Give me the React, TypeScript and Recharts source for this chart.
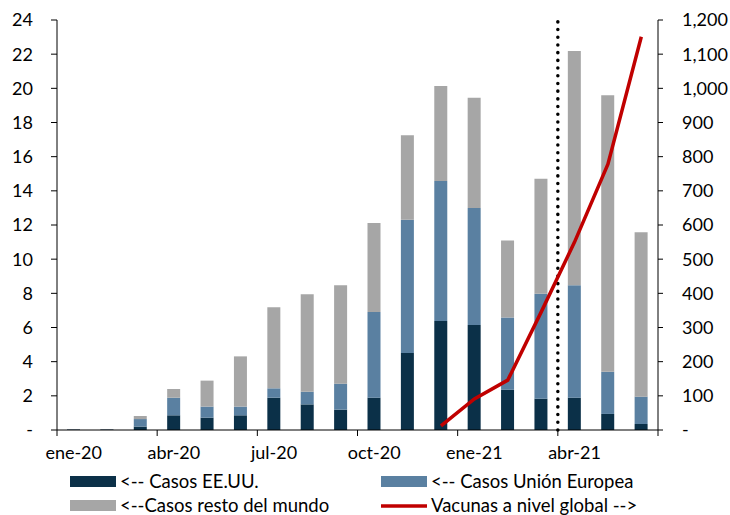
import React from 'react';
import { ComposedChart, Bar, Line, XAxis, YAxis, ReferenceLine } from 'recharts';

// Monthly new COVID-19 cases (millions) by region, and global vaccine doses (millions)
const months = [
  'ene-20', 'feb-20', 'mar-20', 'abr-20', 'may-20', 'jun-20',
  'jul-20', 'ago-20', 'sep-20', 'oct-20', 'nov-20', 'dic-20',
  'ene-21', 'feb-21', 'mar-21', 'abr-21', 'may-21', 'jun-21',
];
const casosEEUU = [0.03, 0.03, 0.2, 0.86, 0.72, 0.86, 1.89, 1.5, 1.19, 1.89, 4.51, 6.38, 6.15, 2.36, 1.83, 1.89, 0.94, 0.35];
const casosUE = [0.01, 0.01, 0.44, 1.03, 0.65, 0.51, 0.55, 0.74, 1.52, 5.02, 7.8, 8.2, 6.85, 4.22, 6.15, 6.58, 2.47, 1.6];
const casosResto = [0.01, 0.01, 0.18, 0.51, 1.52, 2.94, 4.74, 5.7, 5.76, 5.21, 4.94, 5.56, 6.45, 4.52, 6.73, 13.72, 16.18, 9.62];
const vacunas: (number | null)[] = [
  null, null, null, null, null, null, null, null, null, null, null,
  12, 91, 146, 345, 550, 778, 1151,
];
const leftTicks = [0, 2, 4, 6, 8, 10, 12, 14, 16, 18, 20, 22, 24];
const rightTicks = [0, 100, 200, 300, 400, 500, 600, 700, 800, 900, 1000, 1100, 1200];
const quarterLabels = ['ene-20', 'abr-20', 'jul-20', 'oct-20', 'ene-21', 'abr-21'];
const markerMonth = 'abr-21';

const data = months.map((m, i) => ({
  mes: m,
  eeuu: casosEEUU[i],
  ue: casosUE[i],
  resto: casosResto[i],
  vacunas: vacunas[i],
}));

const FONT = 'Lato, "Liberation Sans", sans-serif';
const AXIS_FONT_SIZE = 18;
const LEGEND_FONT_SIZE = 18.5;
const TEXT = '#000';
const C_EEUU = '#0B3048';
const C_UE = '#5A80A1';
const C_RESTO = '#A6A6A6';
const C_VAC = '#C00000';

const fmtLeft = (v: number) => (v === 0 ? '-' : String(v));
const fmtRight = (v: number) => (v === 0 ? '-' : v.toLocaleString('en-US'));

// Quarter labels sit on the first month of each quarter; tick marks sit on the
// category boundaries to the left of them (plus the closing boundary).
const QuarterTick = (props: any) => {
  const { x, y, payload } = props;
  const value = payload?.value;
  if (!quarterLabels.includes(value)) return null;
  const half = payload?.offset ?? 0;
  const left = x - half;
  const isLast = value === quarterLabels[quarterLabels.length - 1];
  return (
    <g>
      <line x1={left} x2={left} y1={y} y2={y + 6} stroke="#000" strokeWidth={1} />
      {isLast && (
        <line x1={left + half * 6} x2={left + half * 6} y1={y} y2={y + 6} stroke="#000" strokeWidth={1} />
      )}
      <text
        x={x}
        y={y + 29}
        textAnchor="middle"
        fontFamily={FONT}
        fontSize={AXIS_FONT_SIZE}
        fill={TEXT}
      >
        {value}
      </text>
    </g>
  );
};

const legendItems = [
  { label: '<-- Casos EE.UU.', color: C_EEUU, kind: 'box', col: 0, row: 0 },
  { label: '<-- Casos Unión Europea', color: C_UE, kind: 'box', col: 1, row: 0 },
  { label: '<--Casos resto del mundo', color: C_RESTO, kind: 'box', col: 0, row: 1 },
  { label: 'Vacunas a nivel global -->', color: C_VAC, kind: 'line', col: 1, row: 1 },
];

const Legend2x2 = () => {
  const colX = [70, 381];
  const rowY = [476, 500];
  return (
    <svg
      width={730}
      height={515}
      style={{ position: 'absolute', left: 0, top: 0, pointerEvents: 'none' }}
    >
      {legendItems.map((it) => {
        const sx = colX[it.col];
        const sy = rowY[it.row];
        return (
          <g key={it.label}>
            {it.kind === 'box' ? (
              <rect x={sx} y={sy} width={46} height={11} fill={it.color} />
            ) : (
              <line x1={sx} x2={sx + 46} y1={sy + 6} y2={sy + 6} stroke={it.color} strokeWidth={3.5} />
            )}
            <text
              x={sx + 50}
              y={sy + 11.5}
              fontFamily={FONT}
              fontSize={LEGEND_FONT_SIZE}
              fill={TEXT}
            >
              {it.label}
            </text>
          </g>
        );
      })}
    </svg>
  );
};

export default function App() {
  return (
    <div style={{ position: 'absolute', left: 0, top: 0, width: 730, height: 515, background: '#fff' }}>
      <ComposedChart
        width={730}
        height={515}
        data={data}
        margin={{ top: 20, right: 0, left: 0, bottom: 45 }}
        barSize={13}
      >
        <XAxis
          dataKey="mes"
          xAxisId="x"
          interval={0}
          height={40}
          tickSize={0}
          tickMargin={0}
          tickLine={false}
          axisLine={{ stroke: '#000', strokeWidth: 1 }}
          tick={<QuarterTick />}
        />
        <YAxis
          yAxisId="left"
          orientation="left"
          width={57}
          domain={[0, 24]}
          ticks={leftTicks}
          interval={0}
          tickFormatter={fmtLeft}
          tickSize={6}
          tickMargin={18}
          axisLine={{ stroke: '#000', strokeWidth: 1 }}
          tickLine={{ stroke: '#000', strokeWidth: 1 }}
          tick={{ fontFamily: FONT, fontSize: AXIS_FONT_SIZE, fill: TEXT }}
        />
        <YAxis
          yAxisId="right"
          orientation="right"
          width={72}
          domain={[0, 1200]}
          ticks={rightTicks}
          interval={0}
          tickFormatter={fmtRight}
          tickSize={5}
          tickMargin={19}
          axisLine={{ stroke: '#000', strokeWidth: 1 }}
          tickLine={{ stroke: '#000', strokeWidth: 1 }}
          tick={{ fontFamily: FONT, fontSize: AXIS_FONT_SIZE, fill: TEXT, textAnchor: 'start' }}
        />
        <Bar dataKey="eeuu" xAxisId="x" yAxisId="left" stackId="casos" fill={C_EEUU} isAnimationActive={false} />
        <Bar dataKey="ue" xAxisId="x" yAxisId="left" stackId="casos" fill={C_UE} isAnimationActive={false} />
        <Bar dataKey="resto" xAxisId="x" yAxisId="left" stackId="casos" fill={C_RESTO} isAnimationActive={false} />
        <ReferenceLine
          x={markerMonth}
          xAxisId="x"
          yAxisId="left"
          position="start"
          stroke="#000"
          strokeWidth={3.5}
          strokeDasharray="0.1 7.6"
          strokeLinecap="round"
        />
        <Line
          dataKey="vacunas"
          xAxisId="x"
          yAxisId="right"
          type="linear"
          stroke={C_VAC}
          strokeWidth={3.5}
          dot={false}
          activeDot={false}
          connectNulls={false}
          isAnimationActive={false}
        />
      </ComposedChart>
      <Legend2x2 />
    </div>
  );
}
